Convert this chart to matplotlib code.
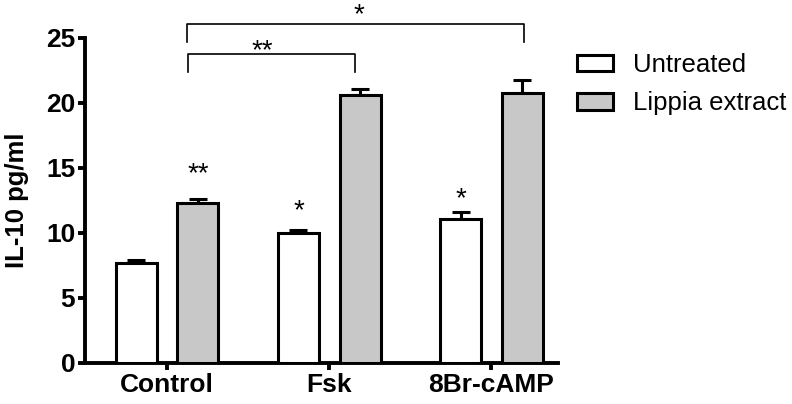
import numpy as np
import matplotlib
matplotlib.use("Agg")
import matplotlib.pyplot as plt
from matplotlib.patches import Patch

plt.rcParams['font.family'] = ['Liberation Sans', 'DejaVu Sans']

groups = ["Control", "Fsk", "8Br-cAMP"]
untreated = [7.7, 10.0, 11.1]
untreated_err = [0.25, 0.2, 0.5]
lippia = [12.3, 20.6, 20.8]
lippia_err = [0.3, 0.45, 1.0]
series_names = ["Untreated", "Lippia extract"]
yticks = [0, 5, 10, 15, 20, 25]

fig = plt.figure(figsize=(7.92, 4.04), dpi=100)
ax = fig.add_axes([0.1073, 0.1015, 0.5972, 0.8045])

x = np.arange(len(groups))
w = 0.253
off = 0.19
lw = 2.2

ax.bar(x - off, untreated, w, color="white", edgecolor="black", linewidth=lw, zorder=3)
ax.bar(x + off, lippia, w, color="#c8c8c8", edgecolor="black", linewidth=lw, zorder=3)
ax.errorbar(x - off, untreated, yerr=[np.zeros(3), untreated_err], fmt="none",
            ecolor="black", elinewidth=lw, capsize=6.5, capthick=lw, zorder=2)
ax.errorbar(x + off, lippia, yerr=[np.zeros(3), lippia_err], fmt="none",
            ecolor="black", elinewidth=lw, capsize=6.5, capthick=lw, zorder=2)

ax.set_xlim(-0.506, 2.41)
ax.set_ylim(0, 25)
ax.set_yticks(yticks)
ax.set_xticks(x)
ax.set_xticklabels(groups, fontsize=19, fontweight="bold")
ax.set_yticklabels([str(t) for t in yticks], fontsize=19, fontweight="bold")
ax.tick_params(axis="both", width=2.8, length=5, direction="out", pad=2)
for s in ["top", "right"]:
    ax.spines[s].set_visible(False)
for s in ["left", "bottom"]:
    ax.spines[s].set_linewidth(2.8)
ax.set_ylabel("IL-10 pg/ml", fontsize=18.5, fontweight="bold", labelpad=12)

# significance stars over bars
ax.text(x[0] + off, 13.55, "**", ha="center", va="bottom", fontsize=20)
ax.text(x[1] - off, 10.7, "*", ha="center", va="bottom", fontsize=20)
ax.text(x[2] - off, 11.6, "*", ha="center", va="bottom", fontsize=20)

# comparison brackets
def bracket(x0, x1, y, leg, label, lx, dy):
    ax.plot([x0, x0, x1, x1], [y - leg, y, y, y - leg], color="black",
            linewidth=1.2, clip_on=False)
    ax.text(lx, y + dy, label, ha="center", va="bottom", fontsize=20, clip_on=False)

bracket(0.13, 1.16, 23.8, 1.4, "**", 0.59, -0.8)
bracket(0.12, 2.20, 26.1, 1.4, "*", 1.18, -0.35)

handles = [Patch(facecolor="white", edgecolor="black", linewidth=2.2),
           Patch(facecolor="#c8c8c8", edgecolor="black", linewidth=2.2)]
fig.legend(handles, series_names, loc="upper left", bbox_to_anchor=(0.728, 0.868),
           frameon=False, fontsize=18.5, handlelength=1.4, handleheight=0.6,
           handletextpad=0.8, labelspacing=0.55, borderpad=0, borderaxespad=0)

fig.savefig("out.png", dpi=100)
